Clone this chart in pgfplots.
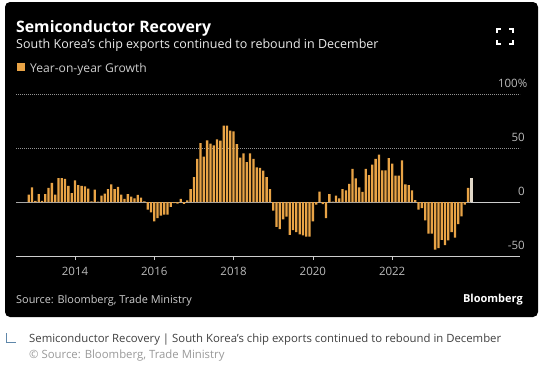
\documentclass[border=0pt]{standalone}
\usepackage{pgfplots}
\usepackage{pgfplotstable}
\usepackage{fontspec}
\pgfplotsset{compat=1.18}
\setmainfont{Open Sans}
\definecolor{barc}{RGB}{232,163,70}
\definecolor{lastc}{RGB}{225,215,200}
\definecolor{lab}{RGB}{205,205,205}
\definecolor{iconc}{RGB}{95,135,170}
\pgfplotstableread{
m v
-14 6.8
-13 13.6
-12 1
-11 7.4
-10 1
-9 7.4
-8 13
-7 17.6
-6 6.8
-5 22
-4 22
-3 21.5
-2 15
-1 8.3
0 20
1 15.7
2 15
3 14.5
4 12.3
5 0.5
6 11.4
7 0.3
8 5.9
9 7.7
10 12
11 16.4
12 12
13 14
14 6.8
15 2.8
16 7.4
17 5
18 3.4
19 6.5
20 4
21 0.6
22 -7
23 -9.6
24 -18
25 -15
26 -12.7
27 -11.7
28 -11.7
29 -4.6
30 -1
31 -1.5
32 2.8
33 -1.8
34 1.5
35 12
36 23
37 40
38 54.6
39 42
40 57
41 54
42 52.5
43 58
44 56.8
45 70.7
46 70.7
47 66
48 65.4
49 53.7
50 41
51 45
52 37
53 45
54 40
55 32
56 31.5
57 29
58 23
59 12
60 -8
61 -23
62 -25
63 -16
64 -13.6
65 -30.5
66 -26
67 -28
68 -30
69 -31
70 -32
71 -32
72 -18
73 -2.5
74 9.5
75 -2
76 -15
77 7.4
78 0.3
79 5.9
80 3.4
81 12
82 10.8
83 16.7
84 30.6
85 21.9
86 13.6
87 9.3
88 30.6
89 25
90 34.6
91 40
92 43.8
93 29.3
94 29.3
95 40.7
96 35.5
97 24.4
98 24.4
99 38.6
100 16.4
101 15.7
102 10.8
103 1.8
104 -7
105 -5.6
106 -17
107 -29.3
108 -29.3
109 -44
110 -42.6
111 -35
112 -40
113 -35.5
114 -27.8
115 -33
116 -20.4
117 -13.3
118 -2.5
119 13
}\growth
\pgfplotstableread{
m v
120 22
}\lastbar
\pgfplotstableread{
m v
-17.86 0
134.7 0
}\zeroline
\pgfplotstableread{
m v
-17.86 50
134.7 50
}\fifty
\pgfplotstableread{
m v
-17.86 100
134.7 100
}\hundred
\pgfplotstableread{
m v
120 0
134.7 0
}\zerotail
\newcommand{\fs}[1]{\fontsize{#1bp}{#1bp}\selectfont}
\begin{document}
\begin{tikzpicture}
\useasboundingbox (0,0) rectangle (539bp,-375bp);
\fill[white] (0,0) rectangle (539bp,-375bp);
\fill[black,rounded corners=5bp] (5bp,-2bp) rectangle (538bp,-317bp);
\begin{axis}[
  at={(16bp,-256bp)}, anchor=south west,
  scale only axis, width=504bp, height=162bp,
  xmin=-17.86, xmax=134.7, ymin=-50, ymax=100,
  axis x line=bottom, axis y line=right,
  axis line style={-},
  x axis line style={draw=lab,line width=0.8bp},
  y axis line style={draw=none},
  xtick={0,24,48,72,96},
  xticklabels={2014,2016,2018,2020,2022},
  ytick={-50,0,50,100},
  yticklabels={-50,0,50,100\rlap{\%}\hspace{7bp}\null},
  x tick style={draw=lab,line width=0.6bp,yshift=0pt},
  y tick style={draw=none},
  major tick length=4bp,
  tick align=outside,
  xticklabel style={font=\fs{11.5},text=lab!90!black,inner sep=1bp,yshift=-6bp},
  yticklabel style={font=\fs{11.5},text=lab!90!black,anchor=south east,inner sep=0pt,xshift=1bp,yshift=6.5bp},
  clip=false,
]
\addplot[gray!85,line width=0.5bp,dash pattern=on 1bp off 1bp,no marks,forget plot] table[x=m,y=v] {\fifty};
\addplot[gray!85,line width=0.5bp,dash pattern=on 1bp off 1bp,no marks,forget plot] table[x=m,y=v] {\hundred};
\addplot[gray!70,line width=0.5bp,no marks,forget plot] table[x=m,y=v] {\zeroline};
\addplot[lab,line width=0.7bp,no marks,forget plot] table[x=m,y=v] {\zerotail};
\addplot[ybar,bar width=2.3bp,bar shift=0pt,fill=barc,draw=none,forget plot] table[x=m,y=v] {\growth};
\addplot[ybar,bar width=2.3bp,bar shift=0pt,fill=lastc,draw=none,forget plot] table[x=m,y=v] {\lastbar};
\end{axis}
\begin{scope}[x=1bp,y=-1bp]
\node[anchor=west,inner sep=0pt,text=white,font=\fs{15.8}\bfseries] at (16,28.5) {Semiconductor Recovery};
\node[anchor=west,inner sep=0pt,text=white!92!black,font=\fs{12.5}] at (16,45.5) {South Korea's chip exports continued to rebound in December};
\fill[barc] (17,63) rectangle (25,71);
\node[anchor=west,inner sep=0pt,text=lab,font=\fs{12.1}] at (30,69) {Year-on-year Growth};
\node[anchor=west,inner sep=0pt,text=lab,font=\fs{10.9}] at (16,301) {Source: Bloomberg, Trade Ministry};
\node[anchor=east,inner sep=0pt,text=white,font=\fs{11}\bfseries] at (523,300) {Bloomberg};
\draw[white,line width=1.3bp] (497,33)--(497,29)--(501,29) (509,29)--(513,29)--(513,33) (513,40)--(513,44)--(509,44) (501,44)--(497,44)--(497,40);
\draw[iconc,line width=0.7bp] (6,333)--(6,342)--(16,342);
\node[anchor=west,inner sep=0pt,text=black!75,font=\fs{11.35}] at (29,340) {Semiconductor Recovery | South Korea's chip exports continued to rebound in December};
\node[anchor=west,inner sep=0pt,text=black!40,font=\fs{11.35}] at (29,356) {\textcopyright{} Source: Bloomberg, Trade Ministry};
\end{scope}
\end{tikzpicture}
\end{document}
